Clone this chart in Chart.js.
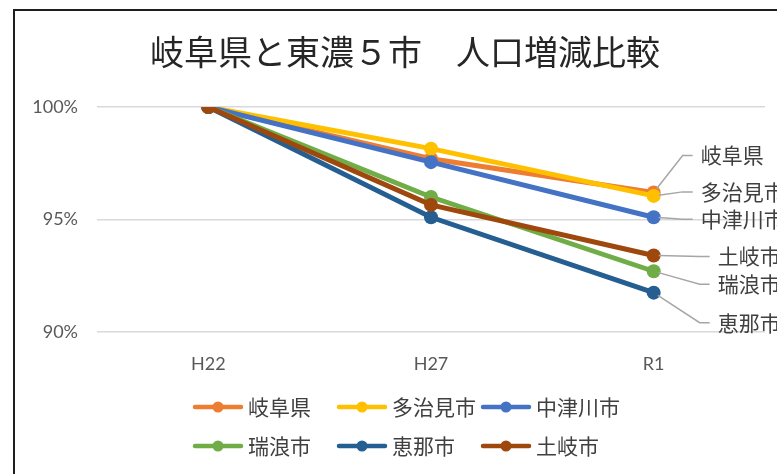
<!DOCTYPE html>
<html>
<head>
<meta charset="utf-8">
<script src="https://cdn.jsdelivr.net/npm/chart.js@4"></script>
<style>
  body { margin: 0; background: #fff; overflow: hidden; }
  #wrap { position: relative; width: 777px; height: 474px; }
  #frame { position: absolute; left: 13px; top: 9px; width: 820px; height: 520px;
           border-top: 2px solid #1e1e1e; border-left: 2px solid #1e1e1e; }
  #popChart { position: absolute; left: 0; top: 0; }
</style>
</head>
<body>
<div id="wrap">
  <div id="frame"></div>
  <canvas id="popChart" width="777" height="474"></canvas>
</div>
<script>
const categories = ["H22", "H27", "R1"];
const seriesNames = ["岐阜県", "多治見市", "中津川市", "瑞浪市", "恵那市", "土岐市"];
const gifu = [100, 97.7, 96.2];
const tajimi = [100, 98.15, 96.05];
const nakatsugawa = [100, 97.55, 95.1];
const mizunami = [100, 96.0, 92.7];
const ena = [100, 95.1, 91.75];
const toki = [100, 95.65, 93.4];
const yTicks = [90, 95, 100];

const colors = ["#ED7D31", "#FFC000", "#4472C4", "#70AD47", "#255E91", "#9E480E"];
const seriesValues = [gifu, tajimi, nakatsugawa, mizunami, ena, toki];

// where the end labels sit, relative to the last point
const labelOffsets = [
  { dx: 47, dy: -37 },
  { dx: 47, dy: -4 },
  { dx: 47, dy: 2 },
  { dx: 64, dy: 13 },
  { dx: 64, dy: 30 },
  { dx: 64, dy: 1 },
];

const jpFont = "'Noto Sans CJK JP', 'Noto Sans', sans-serif";

// the title in the original sits a bit right of the canvas middle
const shiftTitle = {
  id: "shiftTitle",
  afterLayout(chart) {
    if (chart.titleBlock) chart.titleBlock.left = 45;
  },
};

const endLabels = {
  id: "endLabels",
  afterDatasetsDraw(chart) {
    const ctx = chart.ctx;
    ctx.save();
    chart.data.datasets.forEach((ds, i) => {
      const meta = chart.getDatasetMeta(i);
      const pt = meta.data[meta.data.length - 1];
      const off = labelOffsets[i];
      const tx = pt.x + off.dx;
      const ty = pt.y + off.dy;
      const ex = tx - 18;
      const ang = Math.atan2(ty - pt.y, ex - pt.x);
      ctx.strokeStyle = "#A6A6A6";
      ctx.lineWidth = 1.5;
      ctx.beginPath();
      ctx.moveTo(pt.x + 5 * Math.cos(ang), pt.y + 5 * Math.sin(ang));
      ctx.lineTo(ex, ty);
      ctx.lineTo(tx - 8, ty);
      ctx.stroke();
      ctx.fillStyle = "#404040";
      ctx.font = "21px " + jpFont;
      ctx.textAlign = "left";
      ctx.textBaseline = "middle";
      ctx.fillText(ds.label, tx, ty);
    });
    ctx.restore();
  },
};

const gridLegend = {
  id: "gridLegend",
  afterDraw(chart) {
    const ctx = chart.ctx;
    ctx.save();
    chart.data.datasets.forEach((ds, i) => {
      const col = i % 3;
      const row = Math.floor(i / 3);
      const x = 193 + col * 144;
      const y = 407 + row * 39;
      ctx.strokeStyle = ds.borderColor;
      ctx.lineWidth = 4.5;
      ctx.lineCap = "round";
      ctx.beginPath();
      ctx.moveTo(x + 2, y);
      ctx.lineTo(x + 48, y);
      ctx.stroke();
      ctx.fillStyle = ds.borderColor;
      ctx.beginPath();
      ctx.arc(x + 25, y, 5.5, 0, Math.PI * 2);
      ctx.fill();
      ctx.fillStyle = "#404040";
      ctx.font = "21px " + jpFont;
      ctx.textAlign = "left";
      ctx.textBaseline = "middle";
      ctx.fillText(ds.label, x + 55, y);
    });
    ctx.restore();
  },
};

const datasets = seriesNames.map((name, i) => ({
  label: name,
  data: seriesValues[i],
  borderColor: colors[i],
  backgroundColor: colors[i],
  borderWidth: 5,
  pointRadius: 7,
  pointBorderWidth: 0,
  pointBackgroundColor: colors[i],
  order: seriesNames.length - i,
}));

new Chart(document.getElementById("popChart"), {
  type: "line",
  data: { labels: categories, datasets: datasets },
  options: {
    responsive: false,
    animation: false,
    events: [],
    layout: { padding: { left: 0, right: 12, top: 0, bottom: 0 } },
    plugins: {
      legend: { display: false },
      tooltip: { enabled: false },
      title: {
        display: true,
        text: "岐阜県と東濃５市　人口増減比較",
        color: "#262626",
        font: { family: jpFont, size: 34, weight: "normal" },
        padding: { top: 31.6, bottom: 34.6 },
      },
    },
    scales: {
      x: {
        offset: true,
        grid: { display: false, drawTicks: false },
        border: { display: false },
        ticks: {
          color: "#595959",
          font: { family: "Lato", size: 18 },
          padding: 21,
        },
        afterFit(scale) { scale.height = 142; },
      },
      y: {
        min: 90,
        max: 100,
        afterBuildTicks(scale) { scale.ticks = yTicks.map(v => ({ value: v })); },
        grid: { color: "#D9D9D9", lineWidth: 1.5, drawTicks: false },
        border: { display: false },
        ticks: {
          color: "#595959",
          font: { family: "Lato", size: 18 },
          padding: 19,
          callback: v => v + "%",
        },
        afterFit(scale) { scale.width = 97; },
      },
    },
  },
  plugins: [shiftTitle, endLabels, gridLegend],
});
</script>
</body>
</html>
